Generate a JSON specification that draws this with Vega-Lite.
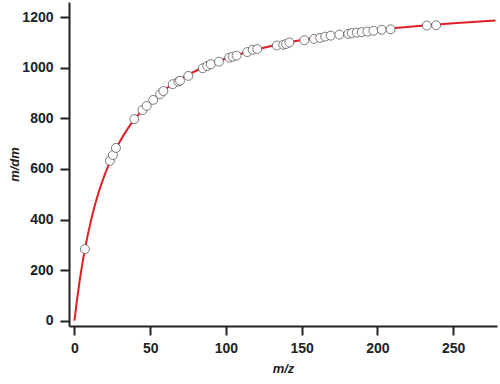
{
  "$schema": "https://vega.github.io/schema/vega-lite/v6.json",
  "autosize": "none",
  "width": 428,
  "height": 324,
  "padding": {"left": 69, "top": 2, "right": 3, "bottom": 58},
  "background": "white",
  "config": {
    "view": {"stroke": null},
    "axis": {
      "grid": false,
      "domainColor": "#222",
      "domainWidth": 2,
      "tickColor": "#222",
      "tickWidth": 2,
      "tickSize": 9,
      "labelFont": "Liberation Sans",
      "labelFontWeight": "bold",
      "labelFontSize": 14,
      "labelColor": "#222",
      "titleFont": "Liberation Sans",
      "titleFontWeight": "bold",
      "titleFontStyle": "italic",
      "titleFontSize": 13,
      "titleColor": "#222"
    }
  },
  "datasets": {
    "curve": [
      {"x": 0, "y": 0}, {"x": 1, "y": 50.2}, {"x": 2, "y": 96.6}, {"x": 3, "y": 139.8},
      {"x": 5, "y": 217.3}, {"x": 7, "y": 285.0}, {"x": 10, "y": 372.0}, {"x": 13, "y": 445.2},
      {"x": 16, "y": 507.6}, {"x": 20, "y": 577.7}, {"x": 25, "y": 649.6}, {"x": 30, "y": 708.3},
      {"x": 35, "y": 757.2}, {"x": 40, "y": 798.6}, {"x": 50, "y": 864.7}, {"x": 60, "y": 915.2},
      {"x": 75, "y": 972.0}, {"x": 90, "y": 1013.9}, {"x": 110, "y": 1055.3}, {"x": 130, "y": 1086.0},
      {"x": 150, "y": 1109.6}, {"x": 175, "y": 1132.5}, {"x": 200, "y": 1150.3}, {"x": 225, "y": 1164.6},
      {"x": 250, "y": 1176.2}, {"x": 278, "y": 1187.0}
    ],
    "points": [
      {"x": 6.9, "y": 283}, {"x": 23.4, "y": 632}, {"x": 25.4, "y": 655}, {"x": 27.4, "y": 683},
      {"x": 39.5, "y": 797}, {"x": 45, "y": 833}, {"x": 47.7, "y": 849}, {"x": 52, "y": 873},
      {"x": 56.5, "y": 895}, {"x": 58.7, "y": 908}, {"x": 64.9, "y": 935}, {"x": 68.6, "y": 945},
      {"x": 69.7, "y": 949}, {"x": 75.2, "y": 968}, {"x": 84.7, "y": 998}, {"x": 87.7, "y": 1007},
      {"x": 90, "y": 1014}, {"x": 95.4, "y": 1024}, {"x": 102.2, "y": 1040}, {"x": 104.5, "y": 1044},
      {"x": 107.1, "y": 1048}, {"x": 114.1, "y": 1062}, {"x": 117.7, "y": 1071}, {"x": 120.7, "y": 1074},
      {"x": 133.6, "y": 1088}, {"x": 137.9, "y": 1091}, {"x": 139.7, "y": 1094}, {"x": 141.9, "y": 1100},
      {"x": 151.8, "y": 1109}, {"x": 158.2, "y": 1114}, {"x": 162.2, "y": 1118}, {"x": 165.5, "y": 1123},
      {"x": 169.2, "y": 1127}, {"x": 174.9, "y": 1131}, {"x": 180.8, "y": 1134}, {"x": 183.1, "y": 1137},
      {"x": 186.4, "y": 1139}, {"x": 189.7, "y": 1141}, {"x": 193.4, "y": 1143}, {"x": 197.4, "y": 1146},
      {"x": 202.9, "y": 1150}, {"x": 208.8, "y": 1152}, {"x": 232.6, "y": 1167}, {"x": 238.8, "y": 1168}
    ]
  },
  "encoding": {
    "x": {
      "field": "x", "type": "quantitative",
      "scale": {"domain": [-3.6, 279], "nice": false, "zero": false},
      "axis": {"title": "m/z", "values": [0, 50, 100, 150, 200, 250], "format": "d", "labelPadding": 6, "titlePadding": 7}
    },
    "y": {
      "field": "y", "type": "quantitative",
      "scale": {"domain": [-21, 1260], "nice": false, "zero": false},
      "axis": {"title": "m/dm", "values": [0, 200, 400, 600, 800, 1000, 1200], "format": "d", "labelPadding": 7, "titleX": -48}
    }
  },
  "layer": [
    {
      "data": {"name": "curve"},
      "mark": {"type": "line", "color": "#e01e26", "strokeWidth": 2, "interpolate": "monotone", "clip": true}
    },
    {
      "data": {"name": "points"},
      "mark": {"type": "point", "shape": "circle", "filled": true, "fill": "white", "stroke": "#444", "strokeWidth": 0.7, "size": 80, "opacity": 1}
    }
  ]
}
